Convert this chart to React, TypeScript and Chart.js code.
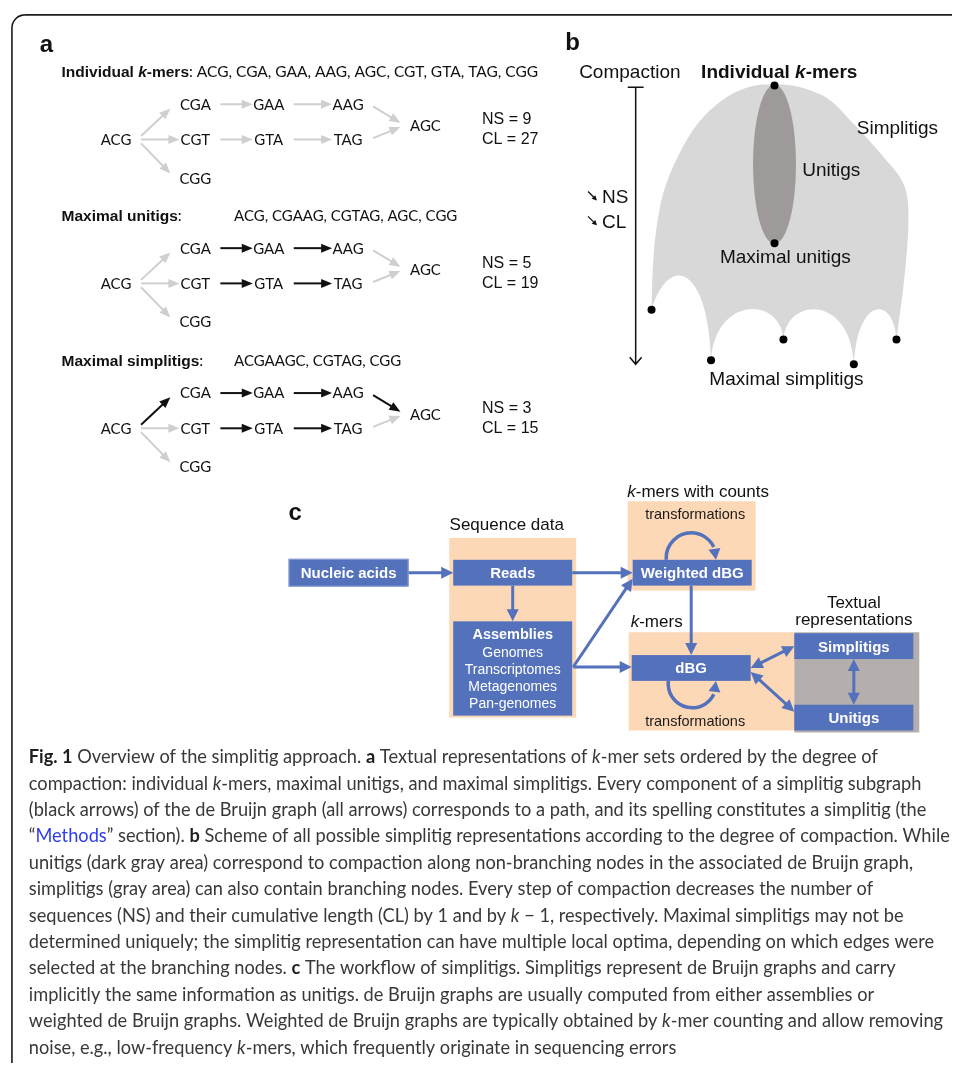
import { useEffect, useRef } from 'react';
import { Chart, registerables } from 'chart.js';

Chart.register(...registerables);

const W = 956;
const H = 1067;

// ---------- a: de Bruijn graph of a small k-mer set ----------
const KMERS = ['ACG', 'CGA', 'GAA', 'AAG', 'AGC', 'CGT', 'GTA', 'TAG', 'CGG'];
const KMER_COLUMN = [0, 1, 2, 3, 4, 1, 2, 3, 1];
const KMER_ROW = [1, 0, 0, 0, 0.6, 1, 1, 1, 2];
const GRAPH_EDGES: [string, string][] = [
  ['ACG', 'CGA'], ['ACG', 'CGT'], ['ACG', 'CGG'],
  ['CGA', 'GAA'], ['GAA', 'AAG'], ['AAG', 'AGC'],
  ['CGT', 'GTA'], ['GTA', 'TAG'], ['TAG', 'AGC'],
];
const REPRESENTATION_NAMES = ['Individual k-mers', 'Maximal unitigs', 'Maximal simplitigs'];
const UNITIGS = ['ACG', 'CGAAG', 'CGTAG', 'AGC', 'CGG'];
const SIMPLITIGS = ['ACGAAGC', 'CGTAG', 'CGG'];
const REPRESENTATIONS = [KMERS, UNITIGS, SIMPLITIGS];
const K = 3;

// ---------- b: compaction scheme ----------
const SCHEME_TOP = { x: 777, y: 82 };           // individual k-mers
const SCHEME_UNITIG = { x: 777, y: 241 };       // maximal unitigs
const SIMPLITIG_OPTIMA_X = [653, 713, 786, 857, 900];
const SIMPLITIG_OPTIMA_Y = [308, 359, 338, 363, 338];
const SCHEME_OUTLINE_X = [653, 654, 657, 665, 680, 700, 727, 753, 777, 800, 823, 838, 853, 872, 892, 905, 911, 912, 910, 906, 900];
const SCHEME_OUTLINE_Y = [308, 273, 233, 190, 153, 120, 95, 83, 81, 83, 91, 101, 117, 137, 160, 177, 195, 222, 255, 293, 338];

// ---------- c: workflow ----------
const WORKFLOW_BOXES = ['Nucleic acids', 'Reads', 'Assemblies', 'Weighted dBG', 'dBG', 'Simplitigs', 'Unitigs'];
const ASSEMBLY_TYPES = ['Genomes', 'Transcriptomes', 'Metagenomes', 'Pan-genomes'];
const WORKFLOW_LINKS: [string, string, boolean][] = [
  ['Nucleic acids', 'Reads', false],
  ['Reads', 'Assemblies', false],
  ['Reads', 'Weighted dBG', false],
  ['Assemblies', 'Weighted dBG', false],
  ['Assemblies', 'dBG', false],
  ['Weighted dBG', 'dBG', false],
  ['dBG', 'Simplitigs', true],
  ['dBG', 'Unitigs', true],
  ['Simplitigs', 'Unitigs', true],
];

const CAPTION_LINES = [
  '**Fig. 1** Overview of the simplitig approach. **a** Textual representations of __k__-mer sets ordered by the degree of',
  'compaction: individual __k__-mers, maximal unitigs, and maximal simplitigs. Every component of a simplitig subgraph',
  '(black arrows) of the de Bruijn graph (all arrows) corresponds to a path, and its spelling constitutes a simplitig (the',
  '“[[Methods]]” section). **b** Scheme of all possible simplitig representations according to the degree of compaction. While',
  'unitigs (dark gray area) correspond to compaction along non-branching nodes in the associated de Bruijn graph,',
  'simplitigs (gray area) can also contain branching nodes. Every step of compaction decreases the number of',
  'sequences (NS) and their cumulative length (CL) by 1 and by __k__ − 1, respectively. Maximal simplitigs may not be',
  'determined uniquely; the simplitig representation can have multiple local optima, depending on which edges were',
  'selected at the branching nodes. **c** The workflow of simplitigs. Simplitigs represent de Bruijn graphs and carry',
  'implicitly the same information as unitigs. de Bruijn graphs are usually computed from either assemblies or',
  'weighted de Bruijn graphs. Weighted de Bruijn graphs are typically obtained by __k__-mer counting and allow removing',
  'noise, e.g., low-frequency __k__-mers, which frequently originate in sequencing errors',
];

// ---------- layout & styles ----------
const ARIAL = '"Liberation Sans", Arial, sans-serif';
const HUMANIST = 'Lato, "Open Sans", sans-serif';
const GRAPH_COLUMN_X = [113, 193, 267, 347, 425];
const BLOCK_Y = [101, 246, 392];
const GRAY_EDGE = '#cfcfcf';
const BLUE = '#5471bb';
const PEACH = '#fdd8b7';

const BOX_GEOM: Record<string, [number, number, number, number]> = {
  'Nucleic acids': [287, 559, 408, 587],
  Reads: [453, 560, 573, 586],
  Assemblies: [453, 622, 573, 717],
  'Weighted dBG': [634, 560, 754, 586],
  dBG: [633, 656, 753, 682],
  Simplitigs: [797, 634, 917, 660],
  Unitigs: [797, 706, 917, 732],
};
const LINK_GEOM: Record<string, [number, number, number, number]> = {
  'Nucleic acids>Reads': [408, 573, 453, 573],
  'Reads>Assemblies': [513, 586, 513, 622],
  'Reads>Weighted dBG': [573, 573, 634, 573],
  'Assemblies>Weighted dBG': [574, 668, 634, 579],
  'Assemblies>dBG': [574, 668, 633, 668],
  'Weighted dBG>dBG': [693, 586, 693, 656],
  'dBG>Simplitigs': [753, 669, 797, 647],
  'dBG>Unitigs': [753, 673, 797, 713],
  'Simplitigs>Unitigs': [857, 660, 857, 706],
};

type Run = { t: string; b?: boolean; i?: boolean; c?: string; f?: string };

function parseMarkup(s: string): Run[] {
  return s
    .split(/(\*\*.+?\*\*|__.+?__|\[\[.+?\]\])/)
    .filter((p) => p.length > 0)
    .map((p) => {
      if (p.startsWith('**')) return { t: p.slice(2, -2), b: true, c: '#1e1e1e' };
      if (p.startsWith('__')) return { t: p.slice(2, -2), i: true };
      if (p.startsWith('[[')) return { t: p.slice(2, -2), c: '#2f3cf0' };
      return { t: p };
    });
}

function kmerRuns(label: string, bold: boolean): Run[] {
  const idx = label.indexOf('k-');
  if (idx < 0) return [{ t: label, b: bold }];
  return [
    { t: label.slice(0, idx), b: bold },
    { t: 'k', b: bold, i: true },
    { t: label.slice(idx + 1), b: bold },
  ];
}

function fontOf(r: Run, size: number, family: string) {
  return `${r.i ? 'italic ' : ''}${r.b ? 'bold ' : ''}${size}px ${r.f || family}`;
}

function measureRuns(ctx: CanvasRenderingContext2D, runs: Run[], size: number, family: string) {
  return runs.map((r) => {
    ctx.font = fontOf(r, size, family);
    return ctx.measureText(r.t).width;
  });
}

function drawRuns(
  ctx: CanvasRenderingContext2D,
  runs: Run[],
  x: number,
  baseline: number,
  size: number,
  family: string,
  color: string,
  align: 'left' | 'center' | 'right' = 'left',
  sx = 1,
) {
  const widths = measureRuns(ctx, runs, size, family);
  const total = widths.reduce((a, b) => a + b, 0) * sx;
  const start = align === 'center' ? x - total / 2 : align === 'right' ? x - total : x;
  ctx.save();
  ctx.translate(start, baseline);
  ctx.scale(sx, 1);
  ctx.textAlign = 'left';
  ctx.textBaseline = 'alphabetic';
  let cx = 0;
  runs.forEach((r, i) => {
    ctx.font = fontOf(r, size, family);
    ctx.fillStyle = r.c || color;
    ctx.fillText(r.t, cx, 0);
    cx += widths[i];
  });
  ctx.restore();
  return total;
}

function arrowHead(ctx: CanvasRenderingContext2D, x1: number, y1: number, x2: number, y2: number, len: number, half: number, color: string) {
  const a = Math.atan2(y2 - y1, x2 - x1);
  const bx = x2 - len * Math.cos(a);
  const by = y2 - len * Math.sin(a);
  ctx.beginPath();
  ctx.moveTo(x2, y2);
  ctx.lineTo(bx + half * Math.sin(a), by - half * Math.cos(a));
  ctx.lineTo(bx - half * Math.sin(a), by + half * Math.cos(a));
  ctx.closePath();
  ctx.fillStyle = color;
  ctx.fill();
}

function arrow(
  ctx: CanvasRenderingContext2D,
  x1: number, y1: number, x2: number, y2: number,
  color: string, width: number, len: number, half: number, both = false,
) {
  const a = Math.atan2(y2 - y1, x2 - x1);
  const inset = len * 0.8;
  const sx = both ? x1 + inset * Math.cos(a) : x1;
  const sy = both ? y1 + inset * Math.sin(a) : y1;
  ctx.beginPath();
  ctx.moveTo(sx, sy);
  ctx.lineTo(x2 - inset * Math.cos(a), y2 - inset * Math.sin(a));
  ctx.strokeStyle = color;
  ctx.lineWidth = width;
  ctx.lineCap = 'butt';
  ctx.stroke();
  arrowHead(ctx, x1, y1, x2, y2, len, half, color);
  if (both) arrowHead(ctx, x2, y2, x1, y1, len, half, color);
}

function rowOffset(r: number) {
  return r <= 1 ? r * 35.5 : 35.5 + (r - 1) * 39;
}

const figurePlugin = {
  id: 'simplitigFigure',
  beforeDatasetsDraw(chart: Chart) {
    const ctx = chart.ctx;
    const xs = chart.scales.x;
    const ys = chart.scales.y;
    const px = (v: number) => xs.getPixelForValue(v);
    const py = (v: number) => ys.getPixelForValue(v);
    const cap = (cy: number, size: number) => py(cy) + size * 0.36;

    ctx.save();

    // frame
    ctx.beginPath();
    ctx.moveTo(px(W), py(11));
    ctx.lineTo(px(21), py(11));
    ctx.arcTo(px(8), py(11), px(8), py(24), 13);
    ctx.lineTo(px(8), py(H));
    ctx.strokeStyle = '#1c1c1c';
    ctx.lineWidth = 1.6;
    ctx.stroke();

    // ---------- panel a ----------
    drawRuns(ctx, [{ t: 'a', b: true }], px(36), py(48), 24, ARIAL, '#111');
    const nodeX = (name: string) => px(GRAPH_COLUMN_X[KMER_COLUMN[KMERS.indexOf(name)]]);
    REPRESENTATIONS.forEach((seqs, b) => {
      const by = BLOCK_Y[b];
      const nodeY = (name: string) => py(by + rowOffset(KMER_ROW[KMERS.indexOf(name)]));
      // heading
      const titleBase = cap(by - 33, 15);
      const nameRuns = kmerRuns(REPRESENTATION_NAMES[b], true).map((r) => ({ ...r, f: ARIAL }));
      const list = seqs.join(', ');
      if (b === 0) {
        drawRuns(ctx, [...nameRuns, { t: ': ' + list, f: HUMANIST }], px(58), titleBase, 15.5, ARIAL, '#111');
      } else {
        drawRuns(ctx, [...nameRuns, { t: ':', f: HUMANIST }], px(58), titleBase, 15.5, ARIAL, '#111');
        drawRuns(ctx, [{ t: list }], px(232), titleBase, 15, HUMANIST, '#111');
      }
      // edges spelled inside a sequence are highlighted
      const spelled = new Set<string>();
      seqs.forEach((s) => {
        for (let i = 0; i + K < s.length; i++) spelled.add(s.slice(i, i + K) + '>' + s.slice(i + 1, i + 1 + K));
      });
      const ordered = [...GRAPH_EDGES].sort((e1, e2) => Number(spelled.has(e1.join('>'))) - Number(spelled.has(e2.join('>'))));
      ordered.forEach(([s, t]) => {
        const black = spelled.has(s + '>' + t);
        const x1 = nodeX(s) + 25;
        const y1s = nodeY(s);
        const y2t = nodeY(t);
        const dy = y2t - y1s;
        const diagonal = Math.abs(dy) > 1;
        const x2 = nodeX(t) - (diagonal ? 25 : 16);
        const y1 = y1s + 0.1 * dy;
        const y2 = y2t - (diagonal ? 0.12 * dy : 0);
        arrow(ctx, x1, y1, x2, y2, black ? '#111' : GRAY_EDGE, 2, 11, 4.5);
      });
      KMERS.forEach((kmer) => {
        drawRuns(ctx, [{ t: kmer }], nodeX(kmer), nodeY(kmer) + 15 * 0.36, 15, HUMANIST, '#111', 'center');
      });
      const ns = seqs.length;
      const cl = seqs.reduce((a, s) => a + s.length, 0);
      drawRuns(ctx, [{ t: `NS = ${ns}` }], px(482), cap(by + 14.5, 16), 16, ARIAL, '#111');
      drawRuns(ctx, [{ t: `CL = ${cl}` }], px(482), cap(by + 34, 16), 16, ARIAL, '#111');
    });

    // ---------- panel b ----------
    drawRuns(ctx, [{ t: 'b', b: true }], px(566), py(46), 24, ARIAL, '#111');
    drawRuns(ctx, [{ t: 'Compaction' }], px(580), cap(68, 19), 19, ARIAL, '#111');
    drawRuns(ctx, kmerRuns(REPRESENTATION_NAMES[0], true), px(703), cap(68, 19), 19, ARIAL, '#111');

    // simplitig region
    const side = SCHEME_OUTLINE_X.map((x, i) => ({ x: px(x), y: py(SCHEME_OUTLINE_Y[i]) }));
    ctx.beginPath();
    ctx.moveTo(side[0].x, side[0].y);
    for (let i = 0; i < side.length - 1; i++) {
      const p0 = side[i - 1] || side[i];
      const p1 = side[i];
      const p2 = side[i + 1];
      const p3 = side[i + 2] || side[i + 1];
      ctx.bezierCurveTo(
        p1.x + (p2.x - p0.x) / 6, p1.y + (p2.y - p0.y) / 6,
        p2.x - (p3.x - p1.x) / 6, p2.y - (p3.y - p1.y) / 6,
        p2.x, p2.y,
      );
    }
    // scalloped lower edge between the maximal simplitigs
    for (let i = SIMPLITIG_OPTIMA_X.length - 1; i > 0; i--) {
      const ax = SIMPLITIG_OPTIMA_X[i];
      const ay = SIMPLITIG_OPTIMA_Y[i];
      const bx = SIMPLITIG_OPTIMA_X[i - 1];
      const byy = SIMPLITIG_OPTIMA_Y[i - 1];
      const top = Math.min(ay, byy) - 44;
      ctx.bezierCurveTo(px(ax - 3), py(top), px(bx + (i === 1 ? 18 : 4)), py(top - (i === 1 ? 14 : 0)), px(bx), py(byy));
    }
    ctx.closePath();
    ctx.fillStyle = '#d8d8d8';
    ctx.fill();

    // unitig region
    ctx.beginPath();
    ctx.ellipse(px(SCHEME_TOP.x), py((SCHEME_TOP.y + SCHEME_UNITIG.y) / 2), 21.5, (SCHEME_UNITIG.y - SCHEME_TOP.y) / 2, 0, 0, Math.PI * 2);
    ctx.fillStyle = '#9e9a99';
    ctx.fill();

    drawRuns(ctx, [{ t: 'Simplitigs' }], px(860), cap(124, 19), 19, ARIAL, '#111');
    drawRuns(ctx, [{ t: 'Unitigs' }], px(805), cap(166, 19), 19, ARIAL, '#111');
    drawRuns(ctx, [{ t: REPRESENTATION_NAMES[1] }], px(788), cap(254, 19), 19, ARIAL, '#111', 'center');
    drawRuns(ctx, [{ t: REPRESENTATION_NAMES[2] }], px(789), cap(377, 19), 19, ARIAL, '#111', 'center');

    // compaction axis
    ctx.strokeStyle = '#111';
    ctx.lineWidth = 1.5;
    ctx.beginPath();
    ctx.moveTo(px(637), py(84));
    ctx.lineTo(px(637), py(363));
    ctx.moveTo(px(629), py(84));
    ctx.lineTo(px(645), py(84));
    ctx.moveTo(px(631), py(356));
    ctx.lineTo(px(637), py(363));
    ctx.lineTo(px(643), py(356));
    ctx.stroke();

    // decreasing NS / CL
    [['NS', 194], ['CL', 219]].forEach(([label, cy]) => {
      const y0 = cy as number;
      ctx.beginPath();
      ctx.moveTo(px(589), py(y0 - 5));
      ctx.lineTo(px(595), py(y0 + 1));
      ctx.strokeStyle = '#111';
      ctx.lineWidth = 1.3;
      ctx.stroke();
      arrowHead(ctx, px(589), py(y0 - 5), px(598), py(y0 + 4), 5, 2.6, '#111');
      drawRuns(ctx, [{ t: label as string }], px(603), cap(y0, 19), 19, ARIAL, '#111');
    });

    // ---------- panel c ----------
    drawRuns(ctx, [{ t: 'c', b: true }], px(287), py(520), 24, ARIAL, '#111');
    const rect = (x0: number, y0: number, x1: number, y1: number, color: string) => {
      ctx.fillStyle = color;
      ctx.fillRect(px(x0), py(y0), px(x1) - px(x0), py(y1) - py(y0));
    };
    rect(449, 538, 577, 719, PEACH);
    rect(629, 501, 758, 591, PEACH);
    rect(630, 633, 797, 732, PEACH);
    rect(797, 633, 923, 734, '#b4afac');

    drawRuns(ctx, [{ t: 'Sequence data' }], px(507), cap(524, 17), 17, ARIAL, '#111', 'center');
    drawRuns(ctx, kmerRuns('k-mers with counts', false), px(700), cap(491, 17), 17, ARIAL, '#111', 'center');
    drawRuns(ctx, kmerRuns('k-mers', false), px(632), cap(622, 17), 17, ARIAL, '#111');
    drawRuns(ctx, [{ t: 'Textual' }], px(857), cap(602, 17), 17, ARIAL, '#111', 'center');
    drawRuns(ctx, [{ t: 'representations' }], px(857), cap(620, 17), 17, ARIAL, '#111', 'center');
    drawRuns(ctx, [{ t: 'transformations' }], px(697), cap(514, 14.5), 14.5, ARIAL, '#1a1a1a', 'center');
    drawRuns(ctx, [{ t: 'transformations' }], px(697), cap(722, 14.5), 14.5, ARIAL, '#1a1a1a', 'center');

    WORKFLOW_BOXES.forEach((name) => {
      const [x0, y0, x1, y1] = BOX_GEOM[name];
      rect(x0, y0, x1, y1, BLUE);
      if (name === 'Nucleic acids') {
        ctx.strokeStyle = '#8ea2d6';
        ctx.lineWidth = 1;
        ctx.strokeRect(px(x0) + 0.5, py(y0) + 0.5, px(x1) - px(x0) - 1, py(y1) - py(y0) - 1);
      }
      const cx = (x0 + x1) / 2;
      if (name === 'Assemblies') {
        drawRuns(ctx, [{ t: name, b: true }], px(cx), cap(635, 14.5), 14.5, ARIAL, '#fff', 'center');
        ASSEMBLY_TYPES.forEach((t, i) => {
          drawRuns(ctx, [{ t }], px(cx), cap(653 + i * 17, 14), 14, ARIAL, '#fff', 'center');
        });
      } else {
        drawRuns(ctx, [{ t: name, b: true }], px(cx), cap((y0 + y1) / 2, 15), 15, ARIAL, '#fff', 'center');
      }
    });

    WORKFLOW_LINKS.forEach(([s, t, both]) => {
      const [x1, y1, x2, y2] = LINK_GEOM[s + '>' + t];
      arrow(ctx, px(x1), py(y1), px(x2), py(y2), BLUE, 3, 12, 6, both);
    });

    // transformation loops
    ctx.strokeStyle = BLUE;
    ctx.lineWidth = 3.5;
    ctx.beginPath();
    ctx.moveTo(px(668), py(560));
    ctx.arc(px(693), py(558), 25, Math.PI, Math.PI * 2 - 0.45, false);
    ctx.stroke();
    arrowHead(ctx, px(716), py(546), px(718), py(560), 11, 6, BLUE);
    ctx.beginPath();
    ctx.moveTo(px(670), py(682));
    ctx.arc(px(694), py(685), 24, Math.PI, 0.45, true);
    ctx.stroke();
    arrowHead(ctx, px(716), py(696), px(718), py(682), 11, 6, BLUE);

    // ---------- caption ----------
    const CAP_SIZE = 19.5;
    const lines = CAPTION_LINES.map(parseMarkup);
    const widest = Math.max(...lines.map((runs) => measureRuns(ctx, runs, CAP_SIZE, HUMANIST).reduce((a, b) => a + b, 0)));
    const squeeze = 921 / widest;
    lines.forEach((runs, i) => {
      drawRuns(ctx, runs, px(25), py(765 + i * 26.6), CAP_SIZE, HUMANIST, '#383838', 'left', squeeze);
    });

    ctx.restore();
  },
};

export default function App() {
  const canvasRef = useRef<HTMLCanvasElement | null>(null);

  useEffect(() => {
    const canvas = canvasRef.current;
    if (!canvas) return;
    const dots = [
      SCHEME_TOP,
      SCHEME_UNITIG,
      ...SIMPLITIG_OPTIMA_X.map((x, i) => ({ x, y: SIMPLITIG_OPTIMA_Y[i] })),
    ];
    const chart = new Chart(canvas, {
      type: 'scatter',
      data: {
        datasets: [
          {
            label: 'representations',
            data: dots,
            pointRadius: 4,
            pointBackgroundColor: '#000',
            pointBorderColor: '#000',
            pointBorderWidth: 0,
            clip: false as any,
          },
        ],
      },
      options: {
        animation: false,
        responsive: false,
        devicePixelRatio: 1,
        events: [],
        layout: { padding: 0 },
        plugins: { legend: { display: false }, tooltip: { enabled: false } },
        scales: {
          x: { type: 'linear', min: 0, max: W, display: false },
          y: { type: 'linear', min: 0, max: H, reverse: true, display: false },
        },
      },
      plugins: [figurePlugin as any],
    });
    return () => chart.destroy();
  }, []);

  return (
    <div style={{ position: 'absolute', left: 0, top: 0, width: W, height: H, background: '#fff' }}>
      <canvas ref={canvasRef} width={W} height={H} style={{ display: 'block' }} />
    </div>
  );
}
